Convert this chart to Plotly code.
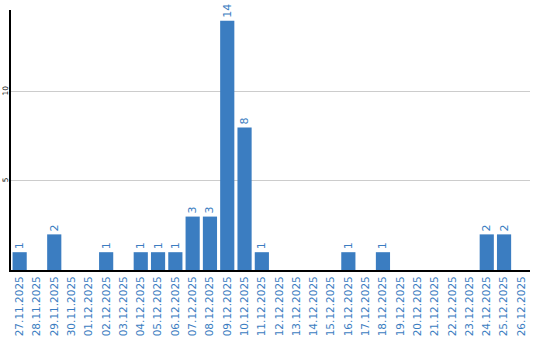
import plotly.graph_objects as go

dates = ["27.11.2025", "28.11.2025", "29.11.2025", "30.11.2025", "01.12.2025",
         "02.12.2025", "03.12.2025", "04.12.2025", "05.12.2025", "06.12.2025",
         "07.12.2025", "08.12.2025", "09.12.2025", "10.12.2025", "11.12.2025",
         "12.12.2025", "13.12.2025", "14.12.2025", "15.12.2025", "16.12.2025",
         "17.12.2025", "18.12.2025", "19.12.2025", "20.12.2025", "21.12.2025",
         "22.12.2025", "23.12.2025", "24.12.2025", "25.12.2025", "26.12.2025"]
counts = [1, 0, 2, 0, 0, 1, 0, 1, 1, 1, 3, 3, 14, 8, 1,
          0, 0, 0, 0, 1, 0, 1, 0, 0, 0, 0, 0, 2, 2, 0]
y_ticks = [5, 10]

blue = "#3b7dc1"
labels = [str(v) if v else "" for v in counts]

fig = go.Figure(go.Bar(
    x=dates, y=counts, text=labels, textposition="outside", textangle=-90,
    textfont=dict(color=blue, size=11, family="DejaVu Sans"),
    marker=dict(color=blue, line=dict(width=0)), cliponaxis=False,
))
fig.update_layout(
    width=540, height=340, margin=dict(l=11, r=10, t=10, b=70),
    paper_bgcolor="white", plot_bgcolor="white", bargap=0.18,
    showlegend=False, font=dict(family="DejaVu Sans"),
)
fig.update_xaxes(type="category", tickangle=-90, showline=True, linecolor="black",
                 linewidth=2, ticks="", tickfont=dict(color=blue, size=10.5),
                 showgrid=False, automargin=False)
fig.update_yaxes(range=[0, 14.6], tickvals=y_ticks, tickangle=-90, showline=True,
                 linecolor="black", linewidth=2, ticks="", showgrid=True,
                 gridcolor="#cccccc", gridwidth=1, zeroline=False, automargin=False,
                 ticklabelstandoff=-2, tickfont=dict(color="black", size=7.5))
fig.write_html("out.html")
